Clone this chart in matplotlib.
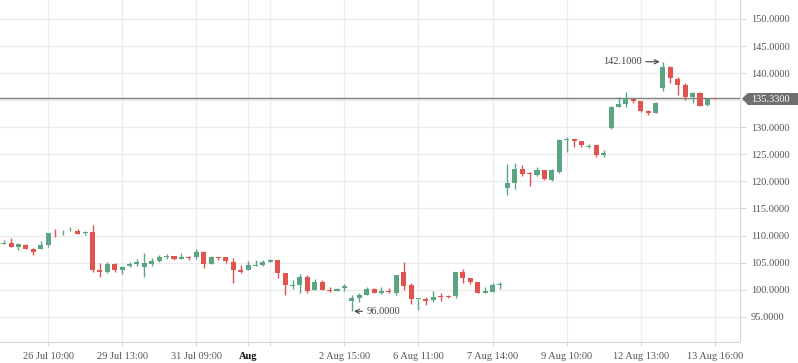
import matplotlib.pyplot as plt
from matplotlib.patches import Polygon
import numpy as np

# OHLC values, one candle per slot (category axis)
opens = [108.5, 108.65, 107.95, 108.28, 107.54, 107.42, 108.28, 110.44, 110.56, 110.75,
         110.87, 110.40, 110.68, 103.66, 103.17, 104.83, 103.72, 104.28, 104.77, 104.10,
         104.83, 105.33, 105.96, 106.25, 105.75, 106.00, 105.97, 106.89, 104.74, 106.03,
         106.03, 105.10, 103.57, 103.63, 104.43, 104.60, 105.17, 105.48, 103.08, 100.73,
         100.92, 102.34, 99.93, 101.35, 99.93, 99.81, 100.24, 97.96, 98.51, 99.00,
         100.11, 99.44, 99.69, 99.44, 103.20, 100.85, 98.21, 98.21, 98.08, 98.76,
         98.76, 98.88, 103.26, 102.15, 101.41, 99.44, 99.56, 100.92, 118.84, 119.76,
         122.29, 121.55, 121.24, 122.04, 120.32, 121.73, 127.64, 127.83, 127.46, 126.41,
         126.66, 124.93, 129.90, 133.80, 134.36, 135.22, 134.85, 133.00, 132.57, 137.31,
         141.19, 138.91, 137.80, 135.65, 136.33, 134.11, 135.36]
highs = [109.2, 109.57, 108.6, 108.47, 107.67, 109.02, 110.44, 111.24, 111.05, 111.6,
         111.24, 110.87, 111.97, 104.96, 105.08, 104.96, 104.40, 105.14, 105.70, 106.80,
         105.90, 106.43, 106.60, 106.25, 106.80, 106.25, 107.45, 107.14, 106.21, 106.03,
         106.03, 105.84, 104.55, 105.35, 105.48, 105.48, 105.66, 105.48, 103.08, 101.78,
         102.89, 102.71, 101.90, 101.72, 100.43, 100.37, 100.98, 99.00, 99.38, 100.48,
         100.24, 100.48, 100.24, 102.70, 105.17, 101.16, 98.27, 98.70, 99.75, 99.38,
         99.07, 103.26, 103.81, 102.15, 101.41, 100.42, 101.16, 101.41, 123.27, 123.40,
         123.09, 121.73, 122.66, 122.16, 122.29, 127.77, 128.20, 127.83, 127.46, 126.90,
         126.78, 125.80, 133.93, 135.50, 136.51, 135.22, 134.85, 133.19, 134.73, 142.10,
         141.30, 139.34, 138.11, 136.51, 136.57, 135.22, 135.40]
lows = [108.5, 107.80, 107.4, 107.42, 106.43, 107.42, 107.97, 109.64, 110.13, 110.75,
        110.19, 110.13, 103.35, 102.43, 102.99, 103.23, 102.80, 104.10, 104.40, 102.43,
        104.46, 105.20, 105.60, 105.57, 105.60, 105.57, 105.60, 104.06, 104.74, 105.54,
        104.98, 101.23, 103.00, 103.63, 104.43, 104.43, 105.17, 102.09, 99.07, 100.18,
        99.44, 99.44, 99.93, 99.93, 99.63, 99.69, 99.81, 96.00, 97.78, 99.00,
        99.44, 99.19, 99.32, 99.07, 99.99, 97.28, 96.24, 97.22, 97.78, 97.96,
        98.39, 98.52, 101.16, 101.10, 99.32, 99.44, 99.56, 100.11, 117.54, 118.65,
        121.05, 119.21, 120.99, 120.25, 120.07, 121.55, 125.43, 126.41, 126.29, 126.10,
        124.56, 124.50, 129.60, 133.80, 133.80, 134.54, 132.76, 132.20, 132.57, 136.76,
        138.11, 136.02, 135.03, 134.42, 134.00, 133.93, 135.30]
closes = [108.7, 107.97, 108.4, 107.60, 106.99, 108.28, 110.44, 110.38, 110.62, 110.87,
          110.19, 110.45, 103.66, 103.17, 104.83, 103.66, 104.22, 104.83, 105.20, 104.96,
          105.33, 106.07, 106.25, 105.70, 106.07, 105.90, 106.89, 104.74, 106.09, 105.84,
          105.29, 103.63, 103.26, 104.55, 104.55, 105.10, 105.48, 103.14, 100.92, 100.92,
          102.34, 99.81, 101.35, 99.93, 99.75, 100.06, 100.73, 98.45, 99.00, 100.05,
          99.44, 99.75, 99.50, 102.70, 100.73, 98.33, 98.27, 97.96, 98.64, 98.58,
          98.58, 103.26, 102.21, 101.41, 99.32, 99.75, 100.92, 101.04, 119.70, 122.29,
          121.42, 121.30, 122.04, 120.38, 122.04, 127.64, 127.77, 127.46, 126.66, 126.53,
          124.93, 125.18, 133.74, 134.30, 135.34, 134.85, 133.00, 132.57, 134.42, 141.13,
          139.04, 137.87, 135.65, 136.33, 134.00, 135.22, 135.33]

tick_pos = [6, 16, 26, 33, 36, 46, 56, 66, 76, 86, 96]
tick_labels = ["26 Jul 10:00", "29 Jul 13:00", "31 Jul 09:00", "Aug", "",
               "2 Aug 15:00", "6 Aug 11:00", "7 Aug 14:00", "9 Aug 10:00",
               "12 Aug 13:00", "13 Aug 16:00"]
y_ticks = np.arange(95, 151, 5)
last_price = 135.33
max_idx, min_idx = 89, 47

green = '#5ba583'
red = '#e0534f'

fig = plt.figure(figsize=(7.98, 3.63), dpi=100)
ax = fig.add_axes([0, 21 / 363, 740 / 798, 342 / 363])

o = np.array(opens); h = np.array(highs); l = np.array(lows); c = np.array(closes)
x = np.arange(len(o))
col = np.where(c >= o, green, red)

ax.vlines(x, l, h, colors=col, linewidth=1, zorder=3)
body_bot = np.minimum(o, c)
body_h = np.maximum(np.abs(c - o), 0.16)
ax.bar(x, body_h, bottom=body_bot, width=0.68, color=col, linewidth=0, zorder=4)

# last price line
ax.axhline(last_price, color='#7d7d7d', linewidth=1, zorder=2)

ax.set_xlim(-0.49, 99.4)
ax.set_ylim(90.33, 153.51)

ax.set_xticks(tick_pos)
ax.set_xticklabels(tick_labels)
ax.set_yticks(y_ticks)
# the 135 label is hidden behind the last-price tag
ax.set_yticklabels(["" if abs(v - last_price) < 2 else f"{v:.4f}" for v in y_ticks])
ax.yaxis.tick_right()
ax.grid(True, color='#ececec', linewidth=1, zorder=0)
ax.set_axisbelow(True)

for lab in ax.get_xticklabels() + ax.get_yticklabels():
    lab.set_family('Liberation Serif')
    lab.set_fontsize(7.5)
    lab.set_color('#555555')
aug = ax.get_xticklabels()[3]
aug.set_fontweight('bold')
aug.set_color('#111111')

ax.tick_params(axis='x', length=3, color='#d6d6d6', pad=4)
ax.tick_params(axis='y', length=4, color='#d6d6d6', pad=4)
for s in ['top', 'left']:
    ax.spines[s].set_visible(False)
for s in ['right', 'bottom']:
    ax.spines[s].set_color('#d9d9d9')

# high / low annotations
ax.annotate(f"{highs[max_idx]:.4f}", xy=(max_idx - 0.45, highs[max_idx]),
            xytext=(-13, 0), textcoords='offset points', ha='right', va='center',
            fontsize=7.5, family='Liberation Serif', color='#444444',
            arrowprops=dict(arrowstyle='->', color='#444444', lw=0.8,
                            shrinkA=1, shrinkB=0))
ax.annotate(f"{lows[min_idx]:.4f}", xy=(min_idx + 0.3, lows[min_idx]),
            xytext=(9, 0), textcoords='offset points', ha='left', va='center',
            fontsize=7.5, family='Liberation Serif', color='#444444',
            arrowprops=dict(arrowstyle='->', color='#444444', lw=0.8,
                            shrinkA=1, shrinkB=0))

# last price label on the right axis
W, H = 798, 363
pts = [(742, 98.5), (748, 93), (798, 93), (798, 105), (748, 105)]
fig.patches.append(Polygon([(px / W, 1 - py / H) for px, py in pts], closed=True,
                           transform=fig.transFigure, facecolor='#6f6f6f',
                           edgecolor='none'))
fig.text(751 / W, 1 - 99 / H, f"{last_price:.4f}", color='white', fontsize=7.5,
         family='Liberation Serif', va='center', ha='left')

fig.savefig('out.png', dpi=100, facecolor='white')
